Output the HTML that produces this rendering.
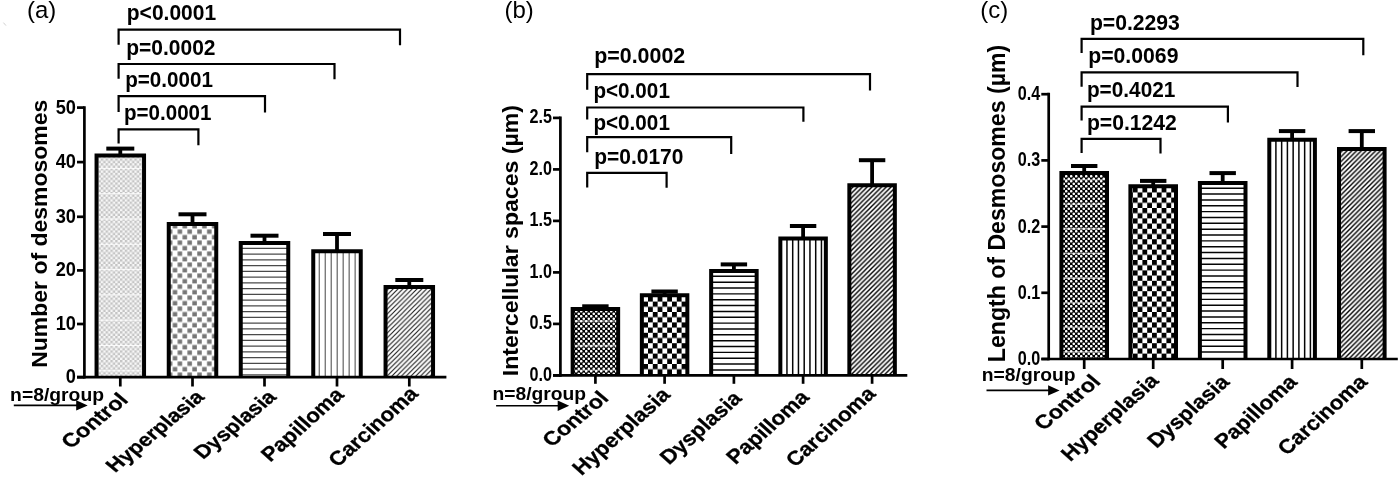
<!DOCTYPE html>
<html><head><meta charset="utf-8"><title>Figure</title>
<style>html,body{margin:0;padding:0;background:#fff}svg{display:block}text{font-family:"Liberation Sans", sans-serif;fill:#000}</style>
</head><body>
<svg width="1400" height="478" viewBox="0 0 1400 478">
<defs>
<pattern id="fineLight" width="4.8" height="4.8" patternUnits="userSpaceOnUse"><rect width="4.8" height="4.8" fill="#f7f7f7"/><rect x="0" y="0" width="2.4" height="2.4" fill="#c4c4c4"/><rect x="2.4" y="2.4" width="2.4" height="2.4" fill="#c4c4c4"/></pattern>
<pattern id="chkGray" width="9.8" height="11" patternUnits="userSpaceOnUse" x="5.9" y="3.4"><rect width="9.8" height="11" fill="#fff"/><rect x="0.25" y="0.6" width="4.5" height="4.4" fill="#767676"/><rect x="5.15" y="6.1" width="4.5" height="4.4" fill="#767676"/></pattern>
<pattern id="fineBlack" width="5" height="5" patternUnits="userSpaceOnUse"><rect width="5" height="5" fill="#000"/><circle cx="1.25" cy="1.25" r="1.3" fill="#fff"/><circle cx="3.75" cy="3.75" r="1.3" fill="#fff"/></pattern>
<pattern id="chkBlack" width="9.6" height="10.4" patternUnits="userSpaceOnUse"><rect width="9.6" height="10.4" fill="#fff"/><rect x="0" y="0" width="4.8" height="5.2" fill="#000"/><rect x="4.8" y="5.2" width="4.8" height="5.2" fill="#000"/></pattern>
<pattern id="dgA" width="4.77" height="4.77" patternUnits="userSpaceOnUse"><rect width="4.77" height="4.77" fill="#fff"/><path d="M-1 1L1 -1M-1 5.77L5.77 -1M3.77 5.77L5.77 3.77" stroke="#1a1a1a" stroke-width="1.12"/></pattern>
<pattern id="dgB" width="4.77" height="4.77" patternUnits="userSpaceOnUse"><rect width="4.77" height="4.77" fill="#fff"/><path d="M-1 1L1 -1M-1 5.77L5.77 -1M3.77 5.77L5.77 3.77" stroke="#000" stroke-width="1.42"/></pattern>
</defs>
<rect width="1400" height="478" fill="#fff"/>

<rect x="96.55" y="155.40" width="47.50" height="221.80" fill="url(#fineLight)"/>
<line x1="96.55" y1="168.40" x2="144.05" y2="168.40" stroke="#fff" stroke-width="1.0" stroke-opacity="0.85"/>
<line x1="96.55" y1="193.70" x2="144.05" y2="193.70" stroke="#fff" stroke-width="1.0" stroke-opacity="0.85"/>
<line x1="96.55" y1="219.00" x2="144.05" y2="219.00" stroke="#fff" stroke-width="1.0" stroke-opacity="0.85"/>
<line x1="96.55" y1="244.30" x2="144.05" y2="244.30" stroke="#fff" stroke-width="1.0" stroke-opacity="0.85"/>
<line x1="96.55" y1="269.60" x2="144.05" y2="269.60" stroke="#fff" stroke-width="1.0" stroke-opacity="0.85"/>
<line x1="96.55" y1="294.90" x2="144.05" y2="294.90" stroke="#fff" stroke-width="1.0" stroke-opacity="0.85"/>
<line x1="96.55" y1="320.20" x2="144.05" y2="320.20" stroke="#fff" stroke-width="1.0" stroke-opacity="0.85"/>
<line x1="96.55" y1="345.50" x2="144.05" y2="345.50" stroke="#fff" stroke-width="1.0" stroke-opacity="0.85"/>
<line x1="96.55" y1="370.80" x2="144.05" y2="370.80" stroke="#fff" stroke-width="1.0" stroke-opacity="0.85"/>
<line x1="120.30" y1="148.60" x2="120.30" y2="155.40" stroke="#000" stroke-width="3.8" stroke-linecap="butt"/>
<line x1="106.30" y1="148.60" x2="134.30" y2="148.60" stroke="#000" stroke-width="4.0" stroke-linecap="butt"/>
<path d="M96.55 377.20V155.40H144.05V377.20" fill="none" stroke="#000" stroke-width="4.0" stroke-linejoin="miter"/>
<line x1="120.30" y1="377.20" x2="120.30" y2="386.50" stroke="#000" stroke-width="2.7" stroke-linecap="butt"/>
<rect x="168.75" y="224.00" width="47.50" height="153.20" fill="url(#chkGray)"/>
<line x1="192.50" y1="214.30" x2="192.50" y2="224.00" stroke="#000" stroke-width="3.8" stroke-linecap="butt"/>
<line x1="178.50" y1="214.30" x2="206.50" y2="214.30" stroke="#000" stroke-width="4.0" stroke-linecap="butt"/>
<path d="M168.75 377.20V224.00H216.25V377.20" fill="none" stroke="#000" stroke-width="4.0" stroke-linejoin="miter"/>
<line x1="192.50" y1="377.20" x2="192.50" y2="386.50" stroke="#000" stroke-width="2.7" stroke-linecap="butt"/>
<line x1="240.75" y1="248.30" x2="288.25" y2="248.30" stroke="#4a4a4a" stroke-width="1.15" stroke-linecap="butt"/>
<line x1="240.75" y1="254.05" x2="288.25" y2="254.05" stroke="#4a4a4a" stroke-width="1.15" stroke-linecap="butt"/>
<line x1="240.75" y1="259.80" x2="288.25" y2="259.80" stroke="#4a4a4a" stroke-width="1.15" stroke-linecap="butt"/>
<line x1="240.75" y1="265.55" x2="288.25" y2="265.55" stroke="#4a4a4a" stroke-width="1.15" stroke-linecap="butt"/>
<line x1="240.75" y1="271.30" x2="288.25" y2="271.30" stroke="#4a4a4a" stroke-width="1.15" stroke-linecap="butt"/>
<line x1="240.75" y1="277.05" x2="288.25" y2="277.05" stroke="#4a4a4a" stroke-width="1.15" stroke-linecap="butt"/>
<line x1="240.75" y1="282.80" x2="288.25" y2="282.80" stroke="#4a4a4a" stroke-width="1.15" stroke-linecap="butt"/>
<line x1="240.75" y1="288.55" x2="288.25" y2="288.55" stroke="#4a4a4a" stroke-width="1.15" stroke-linecap="butt"/>
<line x1="240.75" y1="294.30" x2="288.25" y2="294.30" stroke="#4a4a4a" stroke-width="1.15" stroke-linecap="butt"/>
<line x1="240.75" y1="300.05" x2="288.25" y2="300.05" stroke="#4a4a4a" stroke-width="1.15" stroke-linecap="butt"/>
<line x1="240.75" y1="305.80" x2="288.25" y2="305.80" stroke="#4a4a4a" stroke-width="1.15" stroke-linecap="butt"/>
<line x1="240.75" y1="311.55" x2="288.25" y2="311.55" stroke="#4a4a4a" stroke-width="1.15" stroke-linecap="butt"/>
<line x1="240.75" y1="317.30" x2="288.25" y2="317.30" stroke="#4a4a4a" stroke-width="1.15" stroke-linecap="butt"/>
<line x1="240.75" y1="323.05" x2="288.25" y2="323.05" stroke="#4a4a4a" stroke-width="1.15" stroke-linecap="butt"/>
<line x1="240.75" y1="328.80" x2="288.25" y2="328.80" stroke="#4a4a4a" stroke-width="1.15" stroke-linecap="butt"/>
<line x1="240.75" y1="334.55" x2="288.25" y2="334.55" stroke="#4a4a4a" stroke-width="1.15" stroke-linecap="butt"/>
<line x1="240.75" y1="340.30" x2="288.25" y2="340.30" stroke="#4a4a4a" stroke-width="1.15" stroke-linecap="butt"/>
<line x1="240.75" y1="346.05" x2="288.25" y2="346.05" stroke="#4a4a4a" stroke-width="1.15" stroke-linecap="butt"/>
<line x1="240.75" y1="351.80" x2="288.25" y2="351.80" stroke="#4a4a4a" stroke-width="1.15" stroke-linecap="butt"/>
<line x1="240.75" y1="357.55" x2="288.25" y2="357.55" stroke="#4a4a4a" stroke-width="1.15" stroke-linecap="butt"/>
<line x1="240.75" y1="363.30" x2="288.25" y2="363.30" stroke="#4a4a4a" stroke-width="1.15" stroke-linecap="butt"/>
<line x1="240.75" y1="369.05" x2="288.25" y2="369.05" stroke="#4a4a4a" stroke-width="1.15" stroke-linecap="butt"/>
<line x1="240.75" y1="374.80" x2="288.25" y2="374.80" stroke="#4a4a4a" stroke-width="1.15" stroke-linecap="butt"/>
<line x1="264.50" y1="235.70" x2="264.50" y2="242.90" stroke="#000" stroke-width="3.8" stroke-linecap="butt"/>
<line x1="250.50" y1="235.70" x2="278.50" y2="235.70" stroke="#000" stroke-width="4.0" stroke-linecap="butt"/>
<path d="M240.75 377.20V242.90H288.25V377.20" fill="none" stroke="#000" stroke-width="4.0" stroke-linejoin="miter"/>
<line x1="264.50" y1="377.20" x2="264.50" y2="386.50" stroke="#000" stroke-width="2.7" stroke-linecap="butt"/>
<line x1="319.25" y1="251.20" x2="319.25" y2="377.20" stroke="#555" stroke-width="1.1" stroke-linecap="butt"/>
<line x1="325.23" y1="251.20" x2="325.23" y2="377.20" stroke="#555" stroke-width="1.1" stroke-linecap="butt"/>
<line x1="331.21" y1="251.20" x2="331.21" y2="377.20" stroke="#555" stroke-width="1.1" stroke-linecap="butt"/>
<line x1="337.19" y1="251.20" x2="337.19" y2="377.20" stroke="#555" stroke-width="1.1" stroke-linecap="butt"/>
<line x1="343.17" y1="251.20" x2="343.17" y2="377.20" stroke="#555" stroke-width="1.1" stroke-linecap="butt"/>
<line x1="349.15" y1="251.20" x2="349.15" y2="377.20" stroke="#555" stroke-width="1.1" stroke-linecap="butt"/>
<line x1="355.13" y1="251.20" x2="355.13" y2="377.20" stroke="#555" stroke-width="1.1" stroke-linecap="butt"/>
<line x1="337.00" y1="234.00" x2="337.00" y2="251.20" stroke="#000" stroke-width="3.8" stroke-linecap="butt"/>
<line x1="323.00" y1="234.00" x2="351.00" y2="234.00" stroke="#000" stroke-width="4.0" stroke-linecap="butt"/>
<path d="M313.25 377.20V251.20H360.75V377.20" fill="none" stroke="#000" stroke-width="4.0" stroke-linejoin="miter"/>
<line x1="337.00" y1="377.20" x2="337.00" y2="386.50" stroke="#000" stroke-width="2.7" stroke-linecap="butt"/>
<rect x="385.55" y="286.90" width="47.50" height="90.30" fill="url(#dgA)"/>
<line x1="409.30" y1="280.00" x2="409.30" y2="286.90" stroke="#000" stroke-width="3.8" stroke-linecap="butt"/>
<line x1="395.30" y1="280.00" x2="423.30" y2="280.00" stroke="#000" stroke-width="4.0" stroke-linecap="butt"/>
<path d="M385.55 377.20V286.90H433.05V377.20" fill="none" stroke="#000" stroke-width="4.0" stroke-linejoin="miter"/>
<line x1="409.30" y1="377.20" x2="409.30" y2="386.50" stroke="#000" stroke-width="2.7" stroke-linecap="butt"/>
<line x1="84.40" y1="106.25" x2="84.40" y2="378.55" stroke="#000" stroke-width="2.7" stroke-linecap="butt"/>
<line x1="77.00" y1="377.20" x2="446.40" y2="377.20" stroke="#000" stroke-width="2.7" stroke-linecap="butt"/>
<line x1="77.00" y1="377.20" x2="84.40" y2="377.20" stroke="#000" stroke-width="2.7" stroke-linecap="butt"/>
<text transform="translate(76.00,383.16) scale(0.910,1.000)" font-size="20" font-weight="bold" text-anchor="end" >0</text>
<line x1="77.00" y1="324.00" x2="84.40" y2="324.00" stroke="#000" stroke-width="2.7" stroke-linecap="butt"/>
<text transform="translate(76.00,329.96) scale(0.910,1.000)" font-size="20" font-weight="bold" text-anchor="end" >10</text>
<line x1="77.00" y1="270.40" x2="84.40" y2="270.40" stroke="#000" stroke-width="2.7" stroke-linecap="butt"/>
<text transform="translate(76.00,276.36) scale(0.910,1.000)" font-size="20" font-weight="bold" text-anchor="end" >20</text>
<line x1="77.00" y1="216.80" x2="84.40" y2="216.80" stroke="#000" stroke-width="2.7" stroke-linecap="butt"/>
<text transform="translate(76.00,222.76) scale(0.910,1.000)" font-size="20" font-weight="bold" text-anchor="end" >30</text>
<line x1="77.00" y1="162.10" x2="84.40" y2="162.10" stroke="#000" stroke-width="2.7" stroke-linecap="butt"/>
<text transform="translate(76.00,168.06) scale(0.910,1.000)" font-size="20" font-weight="bold" text-anchor="end" >40</text>
<line x1="77.00" y1="107.60" x2="84.40" y2="107.60" stroke="#000" stroke-width="2.7" stroke-linecap="butt"/>
<text transform="translate(76.00,113.56) scale(0.910,1.000)" font-size="20" font-weight="bold" text-anchor="end" >50</text>
<text transform="translate(47.00,233.75) scale(0.930,1.000) rotate(-90)" font-size="23.0" font-weight="bold" text-anchor="middle" >Number of desmosomes</text>
<text transform="translate(129.30,401.00) scale(1.210,1.000) rotate(-45)" font-size="19.3" font-weight="bold" text-anchor="end" stroke="#000" stroke-width="0.3">Control</text>
<text transform="translate(205.50,398.00) scale(1.200,1.000) rotate(-45)" font-size="18.8" font-weight="bold" text-anchor="end" stroke="#000" stroke-width="0.3">Hyperplasia</text>
<text transform="translate(277.50,398.00) scale(1.200,1.000) rotate(-45)" font-size="18.8" font-weight="bold" text-anchor="end" stroke="#000" stroke-width="0.3">Dysplasia</text>
<text transform="translate(345.00,396.00) scale(1.120,1.000) rotate(-45)" font-size="20" font-weight="bold" text-anchor="end" stroke="#000" stroke-width="0.3">Papilloma</text>
<text transform="translate(419.30,395.00) scale(1.120,1.000) rotate(-45)" font-size="20" font-weight="bold" text-anchor="end" stroke="#000" stroke-width="0.3">Carcinoma</text>
<path d="M118.60 44.80V29.60H400.00V45.20" fill="none" stroke="#000" stroke-width="2.2" stroke-linejoin="miter"/>
<text x="126.80" y="20.00" font-size="21.5" font-weight="bold" textLength="89.3" lengthAdjust="spacingAndGlyphs">p&lt;0.0001</text>
<path d="M118.60 78.80V64.00H334.50V79.20" fill="none" stroke="#000" stroke-width="2.2" stroke-linejoin="miter"/>
<text x="126.20" y="54.70" font-size="21.5" font-weight="bold" textLength="89.3" lengthAdjust="spacingAndGlyphs">p=0.0002</text>
<path d="M118.60 112.10V96.20H265.00V112.50" fill="none" stroke="#000" stroke-width="2.2" stroke-linejoin="miter"/>
<text x="125.20" y="86.70" font-size="21.5" font-weight="bold" textLength="87.8" lengthAdjust="spacingAndGlyphs">p=0.0001</text>
<path d="M118.60 143.60V129.40H198.40V145.20" fill="none" stroke="#000" stroke-width="2.2" stroke-linejoin="miter"/>
<text x="124.00" y="119.60" font-size="21.5" font-weight="bold" textLength="87.5" lengthAdjust="spacingAndGlyphs">p=0.0001</text>
<text transform="translate(27.00,18.00) scale(1.020,1.000)" font-size="23.5" font-weight="normal" text-anchor="start" >(a)</text>
<text x="10.10" y="400.50" font-size="17.5" font-weight="bold" textLength="93.9" lengthAdjust="spacingAndGlyphs">n=8/group</text>
<line x1="13.80" y1="405.40" x2="79.70" y2="405.40" stroke="#000" stroke-width="1.6" stroke-linecap="butt"/>
<path d="M87.70 405.40L76.20 400.20V410.60Z" fill="#000"/>
<rect x="572.65" y="309.00" width="45.50" height="66.40" fill="url(#fineBlack)"/>
<line x1="572.65" y1="321.00" x2="618.15" y2="321.00" stroke="#fff" stroke-width="1.6" stroke-opacity="0.5"/>
<line x1="572.65" y1="345.60" x2="618.15" y2="345.60" stroke="#fff" stroke-width="1.6" stroke-opacity="0.5"/>
<line x1="572.65" y1="370.20" x2="618.15" y2="370.20" stroke="#fff" stroke-width="1.6" stroke-opacity="0.5"/>
<line x1="595.40" y1="306.30" x2="595.40" y2="309.00" stroke="#000" stroke-width="3.8" stroke-linecap="butt"/>
<line x1="582.20" y1="306.30" x2="608.60" y2="306.30" stroke="#000" stroke-width="4.0" stroke-linecap="butt"/>
<path d="M572.65 375.40V309.00H618.15V375.40" fill="none" stroke="#000" stroke-width="4.0" stroke-linejoin="miter"/>
<line x1="595.40" y1="375.40" x2="595.40" y2="383.80" stroke="#000" stroke-width="2.7" stroke-linecap="butt"/>
<rect x="641.85" y="295.20" width="45.50" height="80.20" fill="url(#chkBlack)"/>
<line x1="664.60" y1="291.50" x2="664.60" y2="295.20" stroke="#000" stroke-width="3.8" stroke-linecap="butt"/>
<line x1="651.40" y1="291.50" x2="677.80" y2="291.50" stroke="#000" stroke-width="4.0" stroke-linecap="butt"/>
<path d="M641.85 375.40V295.20H687.35V375.40" fill="none" stroke="#000" stroke-width="4.0" stroke-linejoin="miter"/>
<line x1="664.60" y1="375.40" x2="664.60" y2="383.80" stroke="#000" stroke-width="2.7" stroke-linecap="butt"/>
<line x1="711.15" y1="276.30" x2="756.65" y2="276.30" stroke="#050505" stroke-width="1.45" stroke-linecap="butt"/>
<line x1="711.15" y1="282.15" x2="756.65" y2="282.15" stroke="#050505" stroke-width="1.45" stroke-linecap="butt"/>
<line x1="711.15" y1="288.00" x2="756.65" y2="288.00" stroke="#050505" stroke-width="1.45" stroke-linecap="butt"/>
<line x1="711.15" y1="293.85" x2="756.65" y2="293.85" stroke="#050505" stroke-width="1.45" stroke-linecap="butt"/>
<line x1="711.15" y1="299.70" x2="756.65" y2="299.70" stroke="#050505" stroke-width="1.45" stroke-linecap="butt"/>
<line x1="711.15" y1="305.55" x2="756.65" y2="305.55" stroke="#050505" stroke-width="1.45" stroke-linecap="butt"/>
<line x1="711.15" y1="311.40" x2="756.65" y2="311.40" stroke="#050505" stroke-width="1.45" stroke-linecap="butt"/>
<line x1="711.15" y1="317.25" x2="756.65" y2="317.25" stroke="#050505" stroke-width="1.45" stroke-linecap="butt"/>
<line x1="711.15" y1="323.10" x2="756.65" y2="323.10" stroke="#050505" stroke-width="1.45" stroke-linecap="butt"/>
<line x1="711.15" y1="328.95" x2="756.65" y2="328.95" stroke="#050505" stroke-width="1.45" stroke-linecap="butt"/>
<line x1="711.15" y1="334.80" x2="756.65" y2="334.80" stroke="#050505" stroke-width="1.45" stroke-linecap="butt"/>
<line x1="711.15" y1="340.65" x2="756.65" y2="340.65" stroke="#050505" stroke-width="1.45" stroke-linecap="butt"/>
<line x1="711.15" y1="346.50" x2="756.65" y2="346.50" stroke="#050505" stroke-width="1.45" stroke-linecap="butt"/>
<line x1="711.15" y1="352.35" x2="756.65" y2="352.35" stroke="#050505" stroke-width="1.45" stroke-linecap="butt"/>
<line x1="711.15" y1="358.20" x2="756.65" y2="358.20" stroke="#050505" stroke-width="1.45" stroke-linecap="butt"/>
<line x1="711.15" y1="364.05" x2="756.65" y2="364.05" stroke="#050505" stroke-width="1.45" stroke-linecap="butt"/>
<line x1="711.15" y1="369.90" x2="756.65" y2="369.90" stroke="#050505" stroke-width="1.45" stroke-linecap="butt"/>
<line x1="733.90" y1="264.40" x2="733.90" y2="271.00" stroke="#000" stroke-width="3.8" stroke-linecap="butt"/>
<line x1="720.70" y1="264.40" x2="747.10" y2="264.40" stroke="#000" stroke-width="4.0" stroke-linecap="butt"/>
<path d="M711.15 375.40V271.00H756.65V375.40" fill="none" stroke="#000" stroke-width="4.0" stroke-linejoin="miter"/>
<line x1="733.90" y1="375.40" x2="733.90" y2="383.80" stroke="#000" stroke-width="2.7" stroke-linecap="butt"/>
<line x1="786.95" y1="238.60" x2="786.95" y2="375.40" stroke="#050505" stroke-width="1.5" stroke-linecap="butt"/>
<line x1="792.70" y1="238.60" x2="792.70" y2="375.40" stroke="#050505" stroke-width="1.5" stroke-linecap="butt"/>
<line x1="798.45" y1="238.60" x2="798.45" y2="375.40" stroke="#050505" stroke-width="1.5" stroke-linecap="butt"/>
<line x1="804.20" y1="238.60" x2="804.20" y2="375.40" stroke="#050505" stroke-width="1.5" stroke-linecap="butt"/>
<line x1="809.95" y1="238.60" x2="809.95" y2="375.40" stroke="#050505" stroke-width="1.5" stroke-linecap="butt"/>
<line x1="815.70" y1="238.60" x2="815.70" y2="375.40" stroke="#050505" stroke-width="1.5" stroke-linecap="butt"/>
<line x1="821.45" y1="238.60" x2="821.45" y2="375.40" stroke="#050505" stroke-width="1.5" stroke-linecap="butt"/>
<line x1="803.10" y1="226.00" x2="803.10" y2="238.60" stroke="#000" stroke-width="3.8" stroke-linecap="butt"/>
<line x1="789.90" y1="226.00" x2="816.30" y2="226.00" stroke="#000" stroke-width="4.0" stroke-linecap="butt"/>
<path d="M780.35 375.40V238.60H825.85V375.40" fill="none" stroke="#000" stroke-width="4.0" stroke-linejoin="miter"/>
<line x1="803.10" y1="375.40" x2="803.10" y2="383.80" stroke="#000" stroke-width="2.7" stroke-linecap="butt"/>
<rect x="849.35" y="185.30" width="45.50" height="190.10" fill="url(#dgB)"/>
<line x1="872.10" y1="160.20" x2="872.10" y2="185.30" stroke="#000" stroke-width="3.8" stroke-linecap="butt"/>
<line x1="858.90" y1="160.20" x2="885.30" y2="160.20" stroke="#000" stroke-width="4.0" stroke-linecap="butt"/>
<path d="M849.35 375.40V185.30H894.85V375.40" fill="none" stroke="#000" stroke-width="4.0" stroke-linejoin="miter"/>
<line x1="872.10" y1="375.40" x2="872.10" y2="383.80" stroke="#000" stroke-width="2.7" stroke-linecap="butt"/>
<line x1="560.40" y1="116.55" x2="560.40" y2="376.75" stroke="#000" stroke-width="2.7" stroke-linecap="butt"/>
<line x1="553.00" y1="375.40" x2="907.30" y2="375.40" stroke="#000" stroke-width="2.7" stroke-linecap="butt"/>
<line x1="553.00" y1="375.40" x2="560.40" y2="375.40" stroke="#000" stroke-width="2.7" stroke-linecap="butt"/>
<text transform="translate(552.00,380.98) scale(0.830,1.000)" font-size="19.5" font-weight="bold" text-anchor="end" >0.0</text>
<line x1="553.00" y1="323.90" x2="560.40" y2="323.90" stroke="#000" stroke-width="2.7" stroke-linecap="butt"/>
<text transform="translate(552.00,329.48) scale(0.830,1.000)" font-size="19.5" font-weight="bold" text-anchor="end" >0.5</text>
<line x1="553.00" y1="272.40" x2="560.40" y2="272.40" stroke="#000" stroke-width="2.7" stroke-linecap="butt"/>
<text transform="translate(552.00,277.98) scale(0.830,1.000)" font-size="19.5" font-weight="bold" text-anchor="end" >1.0</text>
<line x1="553.00" y1="220.90" x2="560.40" y2="220.90" stroke="#000" stroke-width="2.7" stroke-linecap="butt"/>
<text transform="translate(552.00,226.48) scale(0.830,1.000)" font-size="19.5" font-weight="bold" text-anchor="end" >1.5</text>
<line x1="553.00" y1="169.40" x2="560.40" y2="169.40" stroke="#000" stroke-width="2.7" stroke-linecap="butt"/>
<text transform="translate(552.00,174.98) scale(0.830,1.000)" font-size="19.5" font-weight="bold" text-anchor="end" >2.0</text>
<line x1="553.00" y1="117.90" x2="560.40" y2="117.90" stroke="#000" stroke-width="2.7" stroke-linecap="butt"/>
<text transform="translate(552.00,123.48) scale(0.830,1.000)" font-size="19.5" font-weight="bold" text-anchor="end" >2.5</text>
<text transform="translate(517.80,240.60) scale(0.990,1.000) rotate(-90)" font-size="23.1" font-weight="bold" text-anchor="middle" >Intercellular spaces (µm)</text>
<text transform="translate(609.90,399.20) scale(1.200,1.000) rotate(-45)" font-size="19.3" font-weight="bold" text-anchor="end" stroke="#000" stroke-width="0.3">Control</text>
<text transform="translate(671.30,396.00) scale(1.120,1.000) rotate(-45)" font-size="20" font-weight="bold" text-anchor="end" stroke="#000" stroke-width="0.3">Hyperplasia</text>
<text transform="translate(742.90,399.50) scale(1.120,1.000) rotate(-45)" font-size="20" font-weight="bold" text-anchor="end" stroke="#000" stroke-width="0.3">Dysplasia</text>
<text transform="translate(810.30,398.50) scale(1.120,1.000) rotate(-45)" font-size="20" font-weight="bold" text-anchor="end" stroke="#000" stroke-width="0.3">Papilloma</text>
<text transform="translate(876.70,395.00) scale(1.120,1.000) rotate(-45)" font-size="20" font-weight="bold" text-anchor="end" stroke="#000" stroke-width="0.3">Carcinoma</text>
<path d="M587.20 89.80V74.10H870.00V90.40" fill="none" stroke="#000" stroke-width="2.2" stroke-linejoin="miter"/>
<text x="594.20" y="62.80" font-size="21.5" font-weight="bold" textLength="91.0" lengthAdjust="spacingAndGlyphs">p=0.0002</text>
<path d="M587.20 119.60V107.50H803.40V121.80" fill="none" stroke="#000" stroke-width="2.2" stroke-linejoin="miter"/>
<text x="593.40" y="97.50" font-size="21.5" font-weight="bold" textLength="76.5" lengthAdjust="spacingAndGlyphs">p&lt;0.001</text>
<path d="M587.20 152.30V137.20H731.20V153.90" fill="none" stroke="#000" stroke-width="2.2" stroke-linejoin="miter"/>
<text x="593.40" y="129.60" font-size="21.5" font-weight="bold" textLength="76.5" lengthAdjust="spacingAndGlyphs">p&lt;0.001</text>
<path d="M587.20 187.40V172.80H666.60V187.80" fill="none" stroke="#000" stroke-width="2.2" stroke-linejoin="miter"/>
<text x="594.20" y="164.00" font-size="21.5" font-weight="bold" textLength="89.2" lengthAdjust="spacingAndGlyphs">p=0.0170</text>
<text transform="translate(504.50,18.00) scale(1.020,1.000)" font-size="23.5" font-weight="normal" text-anchor="start" >(b)</text>
<text x="492.50" y="400.00" font-size="17.5" font-weight="bold" textLength="93.6" lengthAdjust="spacingAndGlyphs">n=8/group</text>
<line x1="496.10" y1="405.70" x2="561.20" y2="405.70" stroke="#000" stroke-width="1.6" stroke-linecap="butt"/>
<path d="M569.20 405.70L557.70 400.50V410.90Z" fill="#000"/>
<rect x="1061.40" y="173.10" width="45.60" height="185.90" fill="url(#fineBlack)"/>
<line x1="1061.40" y1="179.70" x2="1107.00" y2="179.70" stroke="#fff" stroke-width="1.6" stroke-opacity="0.5"/>
<line x1="1061.40" y1="204.30" x2="1107.00" y2="204.30" stroke="#fff" stroke-width="1.6" stroke-opacity="0.5"/>
<line x1="1061.40" y1="228.90" x2="1107.00" y2="228.90" stroke="#fff" stroke-width="1.6" stroke-opacity="0.5"/>
<line x1="1061.40" y1="253.50" x2="1107.00" y2="253.50" stroke="#fff" stroke-width="1.6" stroke-opacity="0.5"/>
<line x1="1061.40" y1="278.10" x2="1107.00" y2="278.10" stroke="#fff" stroke-width="1.6" stroke-opacity="0.5"/>
<line x1="1061.40" y1="302.70" x2="1107.00" y2="302.70" stroke="#fff" stroke-width="1.6" stroke-opacity="0.5"/>
<line x1="1061.40" y1="327.30" x2="1107.00" y2="327.30" stroke="#fff" stroke-width="1.6" stroke-opacity="0.5"/>
<line x1="1061.40" y1="351.90" x2="1107.00" y2="351.90" stroke="#fff" stroke-width="1.6" stroke-opacity="0.5"/>
<line x1="1084.20" y1="166.00" x2="1084.20" y2="173.10" stroke="#000" stroke-width="3.8" stroke-linecap="butt"/>
<line x1="1071.00" y1="166.00" x2="1097.40" y2="166.00" stroke="#000" stroke-width="4.0" stroke-linecap="butt"/>
<path d="M1061.40 359.00V173.10H1107.00V359.00" fill="none" stroke="#000" stroke-width="4.0" stroke-linejoin="miter"/>
<line x1="1084.20" y1="359.00" x2="1084.20" y2="369.00" stroke="#000" stroke-width="2.7" stroke-linecap="butt"/>
<rect x="1130.40" y="186.20" width="45.60" height="172.80" fill="url(#chkBlack)"/>
<line x1="1153.20" y1="180.90" x2="1153.20" y2="186.20" stroke="#000" stroke-width="3.8" stroke-linecap="butt"/>
<line x1="1140.00" y1="180.90" x2="1166.40" y2="180.90" stroke="#000" stroke-width="4.0" stroke-linecap="butt"/>
<path d="M1130.40 359.00V186.20H1176.00V359.00" fill="none" stroke="#000" stroke-width="4.0" stroke-linejoin="miter"/>
<line x1="1153.20" y1="359.00" x2="1153.20" y2="369.00" stroke="#000" stroke-width="2.7" stroke-linecap="butt"/>
<line x1="1199.90" y1="188.20" x2="1245.50" y2="188.20" stroke="#050505" stroke-width="1.45" stroke-linecap="butt"/>
<line x1="1199.90" y1="194.05" x2="1245.50" y2="194.05" stroke="#050505" stroke-width="1.45" stroke-linecap="butt"/>
<line x1="1199.90" y1="199.90" x2="1245.50" y2="199.90" stroke="#050505" stroke-width="1.45" stroke-linecap="butt"/>
<line x1="1199.90" y1="205.75" x2="1245.50" y2="205.75" stroke="#050505" stroke-width="1.45" stroke-linecap="butt"/>
<line x1="1199.90" y1="211.60" x2="1245.50" y2="211.60" stroke="#050505" stroke-width="1.45" stroke-linecap="butt"/>
<line x1="1199.90" y1="217.45" x2="1245.50" y2="217.45" stroke="#050505" stroke-width="1.45" stroke-linecap="butt"/>
<line x1="1199.90" y1="223.30" x2="1245.50" y2="223.30" stroke="#050505" stroke-width="1.45" stroke-linecap="butt"/>
<line x1="1199.90" y1="229.15" x2="1245.50" y2="229.15" stroke="#050505" stroke-width="1.45" stroke-linecap="butt"/>
<line x1="1199.90" y1="235.00" x2="1245.50" y2="235.00" stroke="#050505" stroke-width="1.45" stroke-linecap="butt"/>
<line x1="1199.90" y1="240.85" x2="1245.50" y2="240.85" stroke="#050505" stroke-width="1.45" stroke-linecap="butt"/>
<line x1="1199.90" y1="246.70" x2="1245.50" y2="246.70" stroke="#050505" stroke-width="1.45" stroke-linecap="butt"/>
<line x1="1199.90" y1="252.55" x2="1245.50" y2="252.55" stroke="#050505" stroke-width="1.45" stroke-linecap="butt"/>
<line x1="1199.90" y1="258.40" x2="1245.50" y2="258.40" stroke="#050505" stroke-width="1.45" stroke-linecap="butt"/>
<line x1="1199.90" y1="264.25" x2="1245.50" y2="264.25" stroke="#050505" stroke-width="1.45" stroke-linecap="butt"/>
<line x1="1199.90" y1="270.10" x2="1245.50" y2="270.10" stroke="#050505" stroke-width="1.45" stroke-linecap="butt"/>
<line x1="1199.90" y1="275.95" x2="1245.50" y2="275.95" stroke="#050505" stroke-width="1.45" stroke-linecap="butt"/>
<line x1="1199.90" y1="281.80" x2="1245.50" y2="281.80" stroke="#050505" stroke-width="1.45" stroke-linecap="butt"/>
<line x1="1199.90" y1="287.65" x2="1245.50" y2="287.65" stroke="#050505" stroke-width="1.45" stroke-linecap="butt"/>
<line x1="1199.90" y1="293.50" x2="1245.50" y2="293.50" stroke="#050505" stroke-width="1.45" stroke-linecap="butt"/>
<line x1="1199.90" y1="299.35" x2="1245.50" y2="299.35" stroke="#050505" stroke-width="1.45" stroke-linecap="butt"/>
<line x1="1199.90" y1="305.20" x2="1245.50" y2="305.20" stroke="#050505" stroke-width="1.45" stroke-linecap="butt"/>
<line x1="1199.90" y1="311.05" x2="1245.50" y2="311.05" stroke="#050505" stroke-width="1.45" stroke-linecap="butt"/>
<line x1="1199.90" y1="316.90" x2="1245.50" y2="316.90" stroke="#050505" stroke-width="1.45" stroke-linecap="butt"/>
<line x1="1199.90" y1="322.75" x2="1245.50" y2="322.75" stroke="#050505" stroke-width="1.45" stroke-linecap="butt"/>
<line x1="1199.90" y1="328.60" x2="1245.50" y2="328.60" stroke="#050505" stroke-width="1.45" stroke-linecap="butt"/>
<line x1="1199.90" y1="334.45" x2="1245.50" y2="334.45" stroke="#050505" stroke-width="1.45" stroke-linecap="butt"/>
<line x1="1199.90" y1="340.30" x2="1245.50" y2="340.30" stroke="#050505" stroke-width="1.45" stroke-linecap="butt"/>
<line x1="1199.90" y1="346.15" x2="1245.50" y2="346.15" stroke="#050505" stroke-width="1.45" stroke-linecap="butt"/>
<line x1="1199.90" y1="352.00" x2="1245.50" y2="352.00" stroke="#050505" stroke-width="1.45" stroke-linecap="butt"/>
<line x1="1222.70" y1="173.10" x2="1222.70" y2="182.90" stroke="#000" stroke-width="3.8" stroke-linecap="butt"/>
<line x1="1209.50" y1="173.10" x2="1235.90" y2="173.10" stroke="#000" stroke-width="4.0" stroke-linecap="butt"/>
<path d="M1199.90 359.00V182.90H1245.50V359.00" fill="none" stroke="#000" stroke-width="4.0" stroke-linejoin="miter"/>
<line x1="1222.70" y1="359.00" x2="1222.70" y2="369.00" stroke="#000" stroke-width="2.7" stroke-linecap="butt"/>
<line x1="1275.90" y1="139.70" x2="1275.90" y2="359.00" stroke="#050505" stroke-width="1.5" stroke-linecap="butt"/>
<line x1="1281.65" y1="139.70" x2="1281.65" y2="359.00" stroke="#050505" stroke-width="1.5" stroke-linecap="butt"/>
<line x1="1287.40" y1="139.70" x2="1287.40" y2="359.00" stroke="#050505" stroke-width="1.5" stroke-linecap="butt"/>
<line x1="1293.15" y1="139.70" x2="1293.15" y2="359.00" stroke="#050505" stroke-width="1.5" stroke-linecap="butt"/>
<line x1="1298.90" y1="139.70" x2="1298.90" y2="359.00" stroke="#050505" stroke-width="1.5" stroke-linecap="butt"/>
<line x1="1304.65" y1="139.70" x2="1304.65" y2="359.00" stroke="#050505" stroke-width="1.5" stroke-linecap="butt"/>
<line x1="1310.40" y1="139.70" x2="1310.40" y2="359.00" stroke="#050505" stroke-width="1.5" stroke-linecap="butt"/>
<line x1="1292.10" y1="131.10" x2="1292.10" y2="139.70" stroke="#000" stroke-width="3.8" stroke-linecap="butt"/>
<line x1="1278.90" y1="131.10" x2="1305.30" y2="131.10" stroke="#000" stroke-width="4.0" stroke-linecap="butt"/>
<path d="M1269.30 359.00V139.70H1314.90V359.00" fill="none" stroke="#000" stroke-width="4.0" stroke-linejoin="miter"/>
<line x1="1292.10" y1="359.00" x2="1292.10" y2="369.00" stroke="#000" stroke-width="2.7" stroke-linecap="butt"/>
<rect x="1339.00" y="149.00" width="45.60" height="210.00" fill="url(#dgB)"/>
<line x1="1361.80" y1="131.10" x2="1361.80" y2="149.00" stroke="#000" stroke-width="3.8" stroke-linecap="butt"/>
<line x1="1348.60" y1="131.10" x2="1375.00" y2="131.10" stroke="#000" stroke-width="4.0" stroke-linecap="butt"/>
<path d="M1339.00 359.00V149.00H1384.60V359.00" fill="none" stroke="#000" stroke-width="4.0" stroke-linejoin="miter"/>
<line x1="1361.80" y1="359.00" x2="1361.80" y2="369.00" stroke="#000" stroke-width="2.7" stroke-linecap="butt"/>
<line x1="1048.70" y1="92.85" x2="1048.70" y2="360.35" stroke="#000" stroke-width="2.7" stroke-linecap="butt"/>
<line x1="1041.30" y1="359.00" x2="1397.80" y2="359.00" stroke="#000" stroke-width="2.7" stroke-linecap="butt"/>
<line x1="1041.30" y1="359.00" x2="1048.70" y2="359.00" stroke="#000" stroke-width="2.7" stroke-linecap="butt"/>
<text transform="translate(1040.30,364.98) scale(0.830,1.000)" font-size="19.5" font-weight="bold" text-anchor="end" >0.0</text>
<line x1="1041.30" y1="292.80" x2="1048.70" y2="292.80" stroke="#000" stroke-width="2.7" stroke-linecap="butt"/>
<text transform="translate(1040.30,298.78) scale(0.830,1.000)" font-size="19.5" font-weight="bold" text-anchor="end" >0.1</text>
<line x1="1041.30" y1="226.60" x2="1048.70" y2="226.60" stroke="#000" stroke-width="2.7" stroke-linecap="butt"/>
<text transform="translate(1040.30,232.58) scale(0.830,1.000)" font-size="19.5" font-weight="bold" text-anchor="end" >0.2</text>
<line x1="1041.30" y1="160.40" x2="1048.70" y2="160.40" stroke="#000" stroke-width="2.7" stroke-linecap="butt"/>
<text transform="translate(1040.30,166.38) scale(0.830,1.000)" font-size="19.5" font-weight="bold" text-anchor="end" >0.3</text>
<line x1="1041.30" y1="94.20" x2="1048.70" y2="94.20" stroke="#000" stroke-width="2.7" stroke-linecap="butt"/>
<text transform="translate(1040.30,100.18) scale(0.830,1.000)" font-size="19.5" font-weight="bold" text-anchor="end" >0.4</text>
<text transform="translate(1004.50,203.50) scale(1.030,1.000) rotate(-90)" font-size="23.1" font-weight="bold" text-anchor="middle" >Length of Desmosomes (µm)</text>
<text transform="translate(1101.70,382.70) scale(1.200,1.000) rotate(-45)" font-size="19.3" font-weight="bold" text-anchor="end" stroke="#000" stroke-width="0.3">Control</text>
<text transform="translate(1159.90,382.00) scale(1.120,1.000) rotate(-45)" font-size="20" font-weight="bold" text-anchor="end" stroke="#000" stroke-width="0.3">Hyperplasia</text>
<text transform="translate(1230.50,383.10) scale(1.120,1.000) rotate(-45)" font-size="20" font-weight="bold" text-anchor="end" stroke="#000" stroke-width="0.3">Dysplasia</text>
<text transform="translate(1298.40,383.10) scale(1.120,1.000) rotate(-45)" font-size="20" font-weight="bold" text-anchor="end" stroke="#000" stroke-width="0.3">Papilloma</text>
<text transform="translate(1368.50,383.10) scale(1.120,1.000) rotate(-45)" font-size="20" font-weight="bold" text-anchor="end" stroke="#000" stroke-width="0.3">Carcinoma</text>
<path d="M1081.60 53.00V38.90H1363.30V55.20" fill="none" stroke="#000" stroke-width="2.2" stroke-linejoin="miter"/>
<text x="1089.90" y="30.10" font-size="21.5" font-weight="bold" textLength="90.0" lengthAdjust="spacingAndGlyphs">p=0.2293</text>
<path d="M1081.60 86.70V72.30H1297.50V87.10" fill="none" stroke="#000" stroke-width="2.2" stroke-linejoin="miter"/>
<text x="1088.20" y="62.80" font-size="21.5" font-weight="bold" textLength="90.3" lengthAdjust="spacingAndGlyphs">p=0.0069</text>
<path d="M1081.60 120.40V106.60H1227.90V122.60" fill="none" stroke="#000" stroke-width="2.2" stroke-linejoin="miter"/>
<text x="1086.90" y="96.70" font-size="21.5" font-weight="bold" textLength="88.5" lengthAdjust="spacingAndGlyphs">p=0.4021</text>
<path d="M1081.60 153.10V138.90H1160.50V153.50" fill="none" stroke="#000" stroke-width="2.2" stroke-linejoin="miter"/>
<text x="1086.90" y="129.60" font-size="21.5" font-weight="bold" textLength="90.0" lengthAdjust="spacingAndGlyphs">p=0.1242</text>
<text transform="translate(980.30,18.00) scale(1.020,1.000)" font-size="23.5" font-weight="normal" text-anchor="start" >(c)</text>
<text x="981.80" y="381.20" font-size="17.5" font-weight="bold" textLength="93.8" lengthAdjust="spacingAndGlyphs">n=8/group</text>
<line x1="986.50" y1="390.40" x2="1051.60" y2="390.40" stroke="#000" stroke-width="1.6" stroke-linecap="butt"/>
<path d="M1059.60 390.40L1048.10 385.20V395.60Z" fill="#000"/>
<line x1="3.40" y1="22.60" x2="6.00" y2="25.60" stroke="#c4c4c4" stroke-width="0.8" stroke-linecap="butt"/>
</svg>
</body></html>
